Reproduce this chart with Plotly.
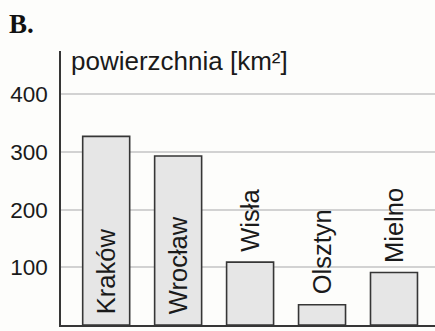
import plotly.graph_objects as go

cities = ["Kraków", "Wrocław", "Wisła", "Olsztyn", "Mielno"]
area_km2 = [327, 293, 109, 35, 91]
label_inside = [True, True, False, False, False]
y_ticks = [0, 100, 200, 300, 400]
y_tick_labels = ["0", "100", "200", "300", "400"]
axis_title = "powierzchnia [km²]"
panel_label = "B."

BG = "#fdfdfb"
FONT = "Liberation Sans, Arial, Helvetica, sans-serif"

fig = go.Figure()
fig.add_trace(go.Bar(
    x=list(range(len(cities))),
    y=area_km2,
    marker=dict(color="#e6e6e6", line=dict(color="#363636", width=1.6)),
    width=0.653,
    hoverinfo="skip",
))

annotations = []
for i, (name, val, inside) in enumerate(zip(cities, area_km2, label_inside)):
    annotations.append(dict(
        x=i, y=0 if inside else val, xref="x", yref="y",
        text=name, textangle=-90, showarrow=False,
        xanchor="center", yanchor="bottom", yshift=9 if inside else 8,
        font=dict(family=FONT, size=25.5, color="#1a1a1a"),
    ))

annotations.append(dict(
    x=0, y=1, xref="paper", yref="paper", text=axis_title,
    showarrow=False, xanchor="left", yanchor="top", xshift=8, yshift=7,
    font=dict(family=FONT, size=26, color="#1a1a1a"),
))
annotations.append(dict(
    x=-0.145, y=1.064, xref="paper", yref="paper", text="<b>" + panel_label + "</b>",
    showarrow=False, xanchor="left", yanchor="bottom", yshift=-8,
    font=dict(family="Liberation Serif, Times New Roman, serif", size=27, color="#111111"),
))

fig.update_layout(
    width=435, height=331,
    margin=dict(l=61, r=0, t=51, b=5.5, pad=0),
    paper_bgcolor=BG, plot_bgcolor=BG,
    showlegend=False,
    annotations=annotations,
    xaxis=dict(
        range=[-0.628, 4.57], showticklabels=False, ticks="",
        showgrid=False, zeroline=False,
        showline=True, linecolor="#363636", linewidth=1.6,
    ),
    yaxis=dict(
        range=[0, 475], tickvals=y_ticks, ticktext=y_tick_labels,
        tickfont=dict(family=FONT, size=22.5, color="#1a1a1a"),
        ticks="outside", ticklen=7, tickcolor="rgba(0,0,0,0)",
        showgrid=True, gridcolor="#d2d2d2", gridwidth=1.5,
        zeroline=False,
        showline=True, linecolor="#363636", linewidth=1.6,
    ),
)

fig.write_html(
    "out.html",
    config={"displayModeBar": False},
    post_script="document.body.style.margin='0';document.body.style.background='" + BG + "';",
)
